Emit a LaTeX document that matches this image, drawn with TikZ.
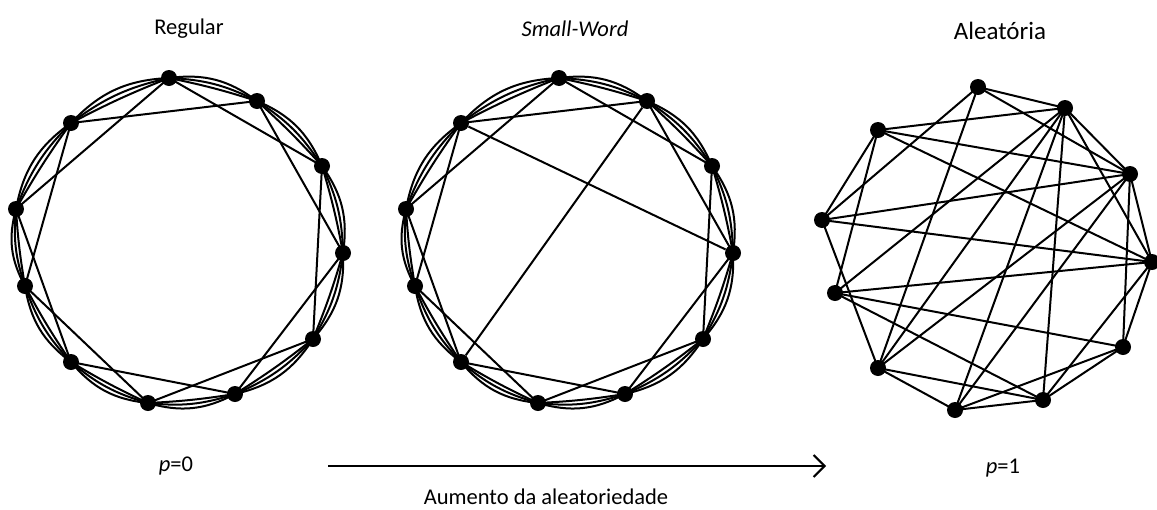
\documentclass[tikz,border=0pt]{standalone}
\usepackage{fontspec}
\setmainfont{Carlito}
\usetikzlibrary{arrows.meta}
\begin{document}
\begin{tikzpicture}[x=1pt,y=-1pt,
  dot/.style={circle,fill=black,inner sep=0pt,minimum size=16pt},
  edge/.style={line width=2pt},
  lbl/.style={font=\fontsize{22.5}{27}\selectfont,inner sep=0pt}]
\useasboundingbox (0,0) rectangle (1157,509);
% node positions
\foreach \n/\x/\y in {0/169/78,1/257/101,2/322/166,3/343/253,4/313/339,5/235/394,6/148/403,7/71/362,8/25/286,9/16/209,10/71/123}{
  \node[dot] (r\n) at (\x,\y) {};
  \node[dot] (s\n) at (\x+390,\y) {};
}
\foreach \n/\x/\y in {0/978/87,1/1065/108,2/1130/174,3/1152/262,4/1123/347,5/1043/400,6/955/410,7/878/368,8/835/293,9/822/220,10/878/130}{
  \node[dot] (a\n) at (\x,\y) {};
}
% ring lattices
\foreach \g in {r,s}{
  \foreach \i [evaluate=\i as \j using {int(mod(\i+1,11))},
               evaluate=\i as \k using {int(mod(\i+2,11))}] in {0,...,10}{
    \draw[edge] (\g\i.center) to[bend left=22] (\g\j.center);
    \draw[edge] (\g\i.center) to[bend left=12] (\g\j.center);
    \draw[edge] (\g\i.center) to[bend left=3] (\g\j.center);
    \draw[edge] (\g\i.center) -- (\g\k.center);
  }
}
% small-world shortcuts
\draw[edge] (s10) -- (s3);
\draw[edge] (s1) -- (s7);
% random graph
\foreach \u/\v in {0/1,0/9,0/7,0/2,10/1,10/2,10/3,10/9,10/8,9/2,9/3,9/7,8/3,8/4,8/5,8/1,7/1,7/2,7/5,7/6,6/1,6/2,6/4,6/5,5/1,5/3,5/4,4/2,4/3,3/2,3/1,2/1}{
  \draw[edge] (a\u.center) -- (a\v.center);
}
% labels
\node[lbl] (t1) at (189,29) {Regular};
\node[lbl] (t2) at (575,29) {\itshape Small-Word};
\node[lbl,font=\fontsize{25}{30}\selectfont] (t3) at (1000,31) {Aleatória};
\node[lbl] (p0) at (176,466) {\textit{p}=0};
\node[lbl] (p1) at (1003,468) {\textit{p}=1};
\coordinate (as) at (328,466);
\coordinate (ae) at (826,466);
\draw[line width=2pt,-{Straight Barb[length=11pt,width=22pt,line width=2pt]}] (as) -- (ae);
\node[lbl] (au) at (546,497) {Aumento da aleatoriedade};
\end{tikzpicture}
\end{document}
